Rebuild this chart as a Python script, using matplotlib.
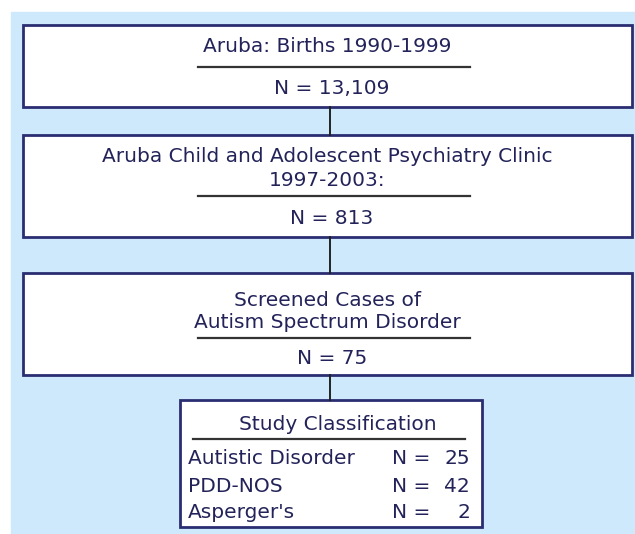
import matplotlib.pyplot as plt
from matplotlib.patches import Rectangle

# flowchart of case finding, Aruba
stage_titles = [
    "Aruba: Births 1990-1999",
    "Aruba Child and Adolescent Psychiatry Clinic\n1997-2003:",
    "Screened Cases of\nAutism Spectrum Disorder",
]
stage_counts = ["13,109", "813", "75"]

class_title = "Study Classification"
class_names = ["Autistic Disorder", "PDD-NOS", "Asperger's"]
class_counts = [25, 42, 2]

navy = "#2b2d72"
txt = "#23235a"
panel = "#cde9fb"

fig = plt.figure(figsize=(6.35, 5.34), dpi=100)
ax = fig.add_axes([0, 0, 1, 1])
ax.set_xlim(0, 635)
ax.set_ylim(534, 0)
ax.axis("off")

ax.add_patch(Rectangle((11, 12), 624, 522, color=panel, zorder=0))

# box geometry in pixels: (top, bottom, title y, underline y, count y)
boxes = [
    (25, 107, [46], 67, 88),
    (135, 237, [157, 181], 196, 219),
    (273, 375, [300, 323], 338, 359),
]
fs = 14.5
for (top, bot, ys, uy, ny), title, n in zip(boxes, stage_titles, stage_counts):
    ax.add_patch(Rectangle((23, top), 609, bot - top, facecolor="white",
                           edgecolor=navy, lw=2, zorder=1))
    for y, line in zip(ys, title.split("\n")):
        ax.text(327, y, line, ha="center", va="center", fontsize=fs, color=txt)
    ax.plot([198, 470], [uy, uy], color="#333333", lw=1.6)
    ax.text(332, ny, "N = " + n, ha="center", va="center", fontsize=fs, color=txt)

# connectors
for y0, y1 in [(107, 135), (237, 273), (375, 400)]:
    ax.plot([330, 330], [y0, y1], color="#222222", lw=1.4)

# classification box
ax.add_patch(Rectangle((180, 400), 302, 127, facecolor="white",
                       edgecolor=navy, lw=2, zorder=1))
ax.text(338, 425, class_title, ha="center", va="center", fontsize=fs, color=txt)
ax.plot([193, 465], [439, 439], color="#333333", lw=1.6)
for y, name, c in zip([458, 486, 513], class_names, class_counts):
    ax.text(188, y, name, ha="left", va="center", fontsize=fs, color=txt)
    ax.text(392, y, "N =", ha="left", va="center", fontsize=fs, color=txt)
    ax.text(470, y, str(c), ha="right", va="center", fontsize=fs, color=txt)

fig.savefig("out.png", dpi=100)
